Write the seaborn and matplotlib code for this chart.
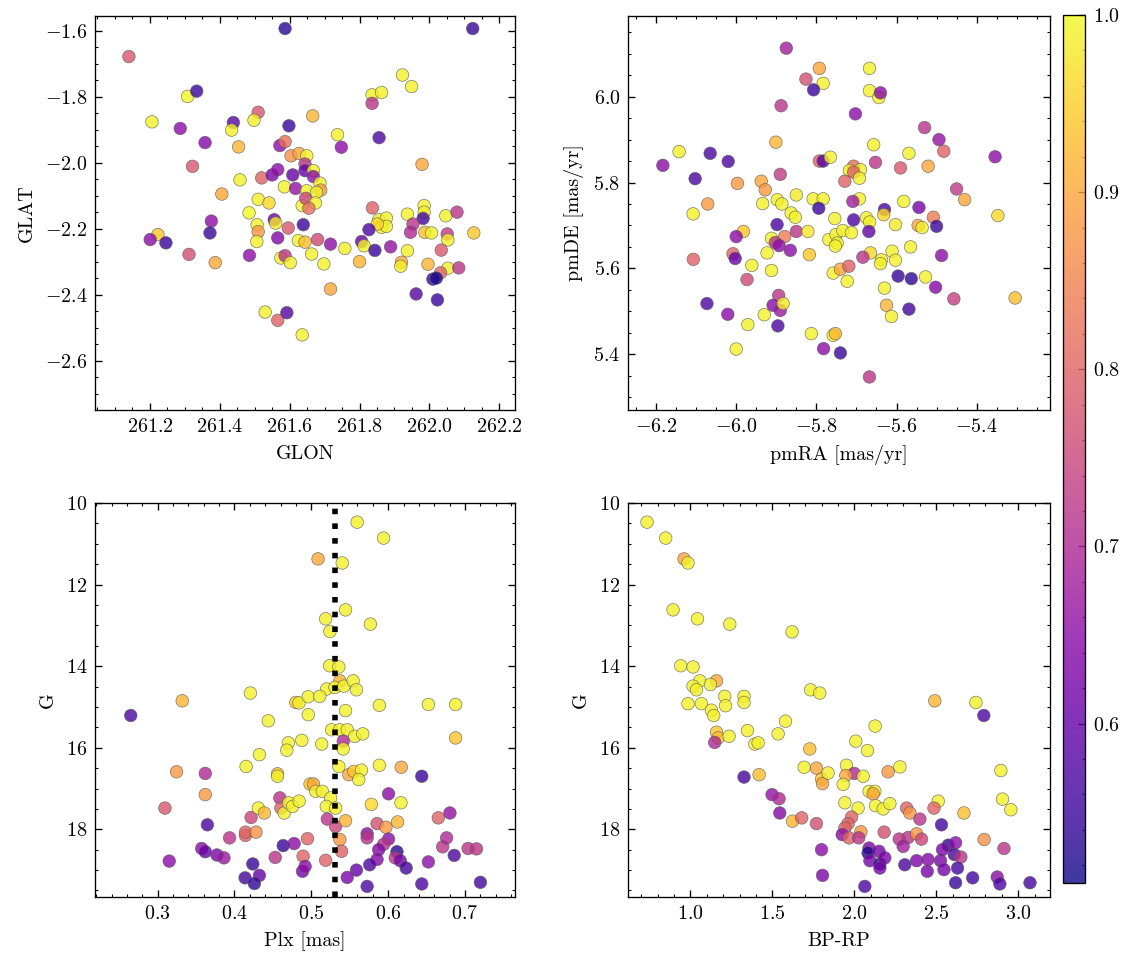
import numpy as np
import pandas as pd
import matplotlib
matplotlib.use('Agg')
import matplotlib.pyplot as plt
import matplotlib.colors as mcolors
import matplotlib.cm as cm
import seaborn as sns

sns.set_theme(style='ticks')
plt.rcParams.update({
    'font.family': ['cmr10', 'DejaVu Serif'],
    'mathtext.fontset': 'cm',
    'axes.formatter.use_mathtext': True,
    'font.size': 9,
    'axes.labelsize': 9,
    'xtick.labelsize': 9,
    'ytick.labelsize': 9,
    'text.color': 'black',
    'axes.labelcolor': 'black',
    'axes.linewidth': 0.6,
    'axes.edgecolor': 'black',
    'xtick.direction': 'in',
    'ytick.direction': 'in',
    'xtick.top': True,
    'ytick.right': True,
    'xtick.minor.visible': True,
    'ytick.minor.visible': True,
    'xtick.major.size': 3,
    'ytick.major.size': 3,
    'xtick.minor.size': 1.5,
    'ytick.minor.size': 1.5,
    'xtick.major.width': 0.6,
    'ytick.major.width': 0.6,
    'xtick.minor.width': 0.5,
    'ytick.minor.width': 0.5,
    'xtick.color': 'black',
    'ytick.color': 'black',
})

# ---- position panel: GLON, GLAT, membership probability
glon = [261.587, 261.14, 261.308, 261.334, 261.206, 261.287, 261.439, 261.434, 261.51, 261.498,
        261.598, 261.358, 261.454, 261.572, 261.587, 261.604, 261.627, 261.322, 261.458, 261.52,
        261.55, 261.566, 261.609, 261.585, 261.617, 261.406, 261.51, 261.541, 261.484, 261.376,
        261.372, 261.507, 261.51, 261.506, 261.556, 261.56, 261.596, 261.639, 261.223, 261.201,
        261.246, 261.566, 261.625, 261.644, 261.312, 261.387, 261.485, 261.575, 261.587, 261.602,
        261.53, 261.566, 261.592, 261.636, 261.636, 261.649,
        262.124, 261.923, 261.949, 261.836, 261.863, 261.836, 261.666, 261.737, 261.748, 261.856,
        261.979, 261.649, 261.644, 261.644, 261.668, 261.668, 261.687, 261.689, 261.677, 261.646,
        261.674, 261.655, 261.663, 261.698, 261.68, 261.717, 261.758, 261.717, 261.837, 261.855,
        261.877, 261.863, 261.877, 261.851, 261.827, 261.806, 261.813, 261.844, 261.889, 261.80,
        261.937, 261.985, 261.985, 261.982, 261.953, 261.946, 261.987, 262.006, 262.047, 262.079,
        262.051, 262.053, 262.127, 262.034, 261.937, 261.92, 261.918, 261.996, 262.053, 262.084,
        262.032, 262.01, 262.02, 261.962, 262.023]
glat = [-1.593, -1.678, -1.799, -1.783, -1.876, -1.896, -1.878, -1.901, -1.847, -1.871,
        -1.888, -1.939, -1.952, -1.948, -1.936, -1.979, -1.972, -2.011, -2.052, -2.046,
        -2.037, -2.021, -2.037, -2.073, -2.078, -2.095, -2.111, -2.122, -2.152, -2.177,
        -2.213, -2.188, -2.209, -2.239, -2.173, -2.183, -2.198, -2.188, -2.218, -2.233,
        -2.243, -2.228, -2.236, -2.241, -2.278, -2.303, -2.281, -2.289, -2.282, -2.303,
        -2.453, -2.478, -2.455, -2.522, -2.13, -2.085,
        -1.593, -1.734, -1.769, -1.794, -1.787, -1.82, -1.858, -1.915, -1.953, -1.924,
        -2.005, -1.979, -2.004, -2.024, -2.024, -2.042, -2.062, -2.083, -2.09, -2.108,
        -2.122, -2.138, -2.277, -2.307, -2.233, -2.247, -2.26, -2.383, -2.137, -2.173,
        -2.168, -2.196, -2.193, -2.186, -2.203, -2.239, -2.252, -2.266, -2.255, -2.30,
        -2.156, -2.13, -2.15, -2.169, -2.186, -2.211, -2.211, -2.213, -2.161, -2.15,
        -2.216, -2.234, -2.213, -2.265, -2.267, -2.302, -2.314, -2.308, -2.32, -2.319,
        -2.334, -2.353, -2.35, -2.398, -2.416]
prob_pos = [0.53, 0.78, 1.0, 0.55, 0.99, 0.65, 0.58, 0.99, 0.78, 0.99,
            0.55, 0.64, 0.92, 0.65, 0.82, 0.87, 0.90, 0.78, 0.99, 0.80,
            0.63, 0.65, 0.60, 0.99, 0.66, 0.90, 0.99, 0.96, 1.0, 0.65,
            0.55, 0.99, 0.88, 0.99, 0.60, 0.98, 0.78, 0.55, 0.94, 0.65,
            0.55, 0.64, 0.99, 0.93, 0.77, 0.90, 0.65, 0.99, 0.72, 0.99,
            0.99, 0.80, 0.58, 0.99, 0.99, 0.99,
            0.55, 0.99, 0.99, 0.99, 0.99, 0.72, 0.92, 0.99, 0.65, 0.57,
            0.90, 0.99, 0.72, 0.60, 0.99, 0.65, 0.99, 0.88, 0.99, 0.75,
            0.99, 0.82, 0.99, 0.99, 0.76, 0.65, 0.99, 0.90, 0.80, 0.99,
            0.99, 0.99, 0.99, 0.96, 0.57, 0.60, 0.99, 0.55, 0.66, 0.92,
            0.99, 0.99, 0.99, 0.56, 0.72, 0.70, 0.93, 0.99, 0.99, 0.72,
            0.73, 0.99, 0.94, 0.78, 0.99, 0.90, 0.99, 0.92, 0.99, 0.72,
            0.80, 0.55, 0.52, 0.58, 0.55]

# ---- proper motion panel
pmra = [-5.875, -5.7925, -5.826, -5.783, -5.807, -5.888, -5.901, -6.183, -6.1425, -6.065,
        -6.02, -6.1025, -5.997, -5.89, -5.7925, -5.783, -5.9375, -5.9275, -6.071, -6.1075,
        -5.934, -5.8975, -5.886, -5.85, -5.808, -5.783, -5.794, -5.863, -5.8525, -5.898,
        -5.982, -6.0, -5.912, -5.879, -5.85, -5.821, -5.9025, -5.893, -5.923, -5.865,
        -5.8175, -6.008, -6.0025, -6.107, -5.961, -5.912, -5.973, -6.073, -6.021, -5.894,
        -5.908, -5.89, -5.883, -5.93, -5.971, -5.896, -5.8125, -6.0, -5.782,
        -5.6675, -5.6675, -5.644, -5.64, -5.7025, -5.53, -5.494, -5.482, -5.657, -5.569,
        -5.6525, -5.59, -5.521, -5.354, -5.765, -5.707, -5.7175, -5.69, -5.707, -5.6925,
        -5.729, -5.45, -5.43, -5.347, -5.6925, -5.709, -5.582, -5.63, -5.632, -5.544,
        -5.754, -5.707, -5.675, -5.667, -5.669, -5.6025, -5.546, -5.536, -5.508, -5.5,
        -5.769, -5.751, -5.734, -5.7125, -5.748, -5.7525, -5.665, -5.684, -5.611, -5.6375,
        -5.64, -5.6025, -5.565, -5.4875, -5.758, -5.74, -5.719, -5.723, -5.596, -5.563,
        -5.5275, -5.5025, -5.63, -5.457, -5.304, -5.625, -5.6125, -5.569, -5.758, -5.7525,
        -5.74, -5.6675]
pmde = [6.113, 6.066, 6.041, 6.031, 6.016, 5.979, 5.894, 5.84, 5.872, 5.868,
        5.849, 5.809, 5.798, 5.819, 5.85, 5.85, 5.803, 5.783, 5.75, 5.727,
        5.751, 5.76, 5.75, 5.771, 5.762, 5.762, 5.74, 5.729, 5.719, 5.702,
        5.686, 5.674, 5.67, 5.674, 5.686, 5.686, 5.66, 5.653, 5.636, 5.642,
        5.632, 5.634, 5.623, 5.621, 5.607, 5.595, 5.574, 5.518, 5.493, 5.537,
        5.514, 5.502, 5.518, 5.492, 5.469, 5.466, 5.448, 5.412, 5.413,
        6.066, 6.014, 5.998, 6.009, 5.96, 5.928, 5.90, 5.873, 5.888, 5.868,
        5.847, 5.834, 5.838, 5.86, 5.859, 5.838, 5.828, 5.83, 5.824, 5.81,
        5.803, 5.785, 5.76, 5.723, 5.762, 5.756, 5.756, 5.737, 5.725, 5.742,
        5.716, 5.713, 5.718, 5.708, 5.686, 5.702, 5.70, 5.695, 5.719, 5.698,
        5.667, 5.679, 5.688, 5.683, 5.659, 5.652, 5.636, 5.626, 5.64, 5.62,
        5.611, 5.619, 5.65, 5.63, 5.589, 5.598, 5.605, 5.57, 5.582, 5.576,
        5.58, 5.556, 5.554, 5.529, 5.531, 5.514, 5.488, 5.505, 5.444, 5.448,
        5.403, 5.347]
prob_pm = [0.68, 0.90, 0.77, 0.99, 0.55, 0.72, 0.92, 0.65, 0.99, 0.57,
           0.57, 0.57, 0.88, 0.73, 0.80, 0.58, 0.90, 0.88, 0.88, 0.99,
           0.99, 0.99, 0.99, 0.98, 0.99, 0.99, 0.55, 0.99, 0.99, 0.57,
           0.94, 0.65, 0.99, 0.84, 0.72, 0.98, 0.72, 0.65, 0.99, 0.65,
           0.94, 0.80, 0.60, 0.80, 0.99, 0.99, 0.76, 0.57, 0.65, 0.72,
           0.65, 0.67, 0.98, 0.99, 0.99, 0.57, 0.99, 0.99, 0.65,
           0.99, 0.99, 0.99, 0.65, 0.65, 0.72, 0.66, 0.80, 0.99, 0.99,
           0.72, 0.78, 0.90, 0.65, 0.99, 0.82, 0.99, 0.99, 0.80, 0.99,
           0.80, 0.73, 0.90, 0.96, 0.99, 0.68, 0.99, 0.57, 0.96, 0.62,
           0.99, 0.57, 0.99, 0.99, 0.60, 0.98, 0.90, 0.99, 0.84, 0.55,
           0.99, 0.99, 0.99, 0.99, 0.99, 0.99, 0.96, 0.72, 0.99, 0.99,
           0.99, 0.99, 0.99, 0.65, 0.99, 0.90, 0.80, 0.99, 0.55, 0.54,
           0.99, 0.64, 0.99, 0.74, 0.93, 0.92, 0.99, 0.56, 0.99, 0.92,
           0.55, 0.72]

# ---- parallax vs G panel
plx = [0.265, 0.332, 0.4207, 0.444, 0.4798, 0.484, 0.496, 0.496, 0.470, 0.468,
       0.4876, 0.4324, 0.4151, 0.456, 0.456, 0.3246, 0.362, 0.362, 0.3095, 0.3647,
       0.3151, 0.3573, 0.362, 0.3772, 0.3863, 0.3936, 0.4143, 0.4143, 0.428, 0.4216,
       0.431, 0.4389, 0.459, 0.4604, 0.4647, 0.4704, 0.4755, 0.4841, 0.4983, 0.4634,
       0.4776, 0.453, 0.4238, 0.4324, 0.4138, 0.4259, 0.4893, 0.4885, 0.4919, 0.495,
       0.5596, 0.594, 0.5087, 0.5402, 0.5445, 0.5768, 0.5186, 0.5242, 0.5238, 0.5358,
       0.5371, 0.5199, 0.5307, 0.5423, 0.5544, 0.5587, 0.5109, 0.5885, 0.6523, 0.6877,
       0.6877, 0.5445, 0.5264, 0.5367, 0.5467, 0.5565, 0.5669, 0.5415, 0.5415, 0.5135,
       0.5358, 0.5488, 0.5552, 0.5652, 0.5617, 0.5885, 0.617, 0.6437, 0.5027, 0.5057,
       0.5143, 0.5251, 0.5195, 0.5316, 0.5781, 0.6005, 0.6166, 0.5208, 0.5316, 0.5445,
       0.5855, 0.5971, 0.6122, 0.6652, 0.6803, 0.5371, 0.5393, 0.5186, 0.5726, 0.5726,
       0.6005, 0.594, 0.5876, 0.6114, 0.6092, 0.6157, 0.6234, 0.5855, 0.5759, 0.5587,
       0.5467, 0.5726, 0.6523, 0.6709, 0.676, 0.6859, 0.704, 0.7149, 0.6437, 0.72]
g_plx = [15.21, 14.85, 14.66, 15.34, 14.89, 14.90, 14.75, 15.19, 15.88, 16.06,
         15.82, 16.17, 16.46, 16.64, 16.70, 16.59, 16.63, 17.15, 17.48, 17.89,
         18.78, 18.47, 18.55, 18.63, 18.70, 18.21, 18.15, 18.07, 18.07, 17.71,
         17.48, 17.60, 17.23, 17.48, 17.60, 17.35, 17.44, 17.31, 16.89, 18.40,
         18.35, 18.69, 18.85, 19.13, 19.19, 19.33, 18.66, 19.03, 18.91, 18.23,
         10.47, 10.86, 11.37, 11.47, 12.62, 12.97, 12.84, 13.15, 13.99, 14.02,
         14.36, 14.56, 14.52, 14.49, 14.36, 14.58, 14.74, 14.96, 14.94, 14.94,
         15.76, 15.09, 15.56, 15.56, 15.56, 15.72, 15.66, 15.84, 16.03, 15.91,
         16.46, 16.66, 16.58, 16.55, 16.78, 16.43, 16.48, 16.70, 16.89, 17.07,
         17.07, 17.23, 17.44, 17.48, 17.39, 17.13, 17.35, 17.75, 17.93, 17.79,
         17.86, 17.95, 17.82, 17.72, 17.60, 18.25, 18.54, 18.76, 18.11, 18.21,
         18.24, 18.37, 18.50, 18.55, 18.70, 18.77, 18.95, 18.74, 18.87, 19.00,
         19.18, 19.40, 18.80, 18.43, 18.21, 18.64, 18.47, 18.48, 19.34, 19.30]
prob_plx = [0.57, 0.92, 0.99, 0.99, 0.94, 0.99, 0.99, 0.99, 0.99, 0.99,
            0.99, 0.99, 0.99, 0.93, 0.99, 0.88, 0.70, 0.88, 0.78, 0.57,
            0.65, 0.65, 0.60, 0.63, 0.67, 0.72, 0.80, 0.80, 0.87, 0.75,
            0.99, 0.92, 0.72, 0.80, 0.99, 0.99, 0.99, 0.99, 0.94, 0.55,
            0.65, 0.72, 0.55, 0.60, 0.56, 0.54, 0.80, 0.62, 0.65, 0.80,
            0.99, 0.99, 0.90, 0.99, 0.99, 0.99, 0.99, 0.99, 0.99, 0.99,
            0.92, 0.99, 0.99, 0.99, 0.99, 0.99, 0.99, 0.99, 0.99, 0.99,
            0.94, 0.99, 0.99, 0.99, 0.99, 0.99, 0.99, 0.70, 0.99, 0.99,
            0.99, 0.90, 0.94, 0.99, 0.99, 0.99, 0.90, 0.55, 0.90, 0.99,
            0.99, 0.99, 0.99, 0.99, 0.96, 0.65, 0.99, 0.72, 0.75, 0.92,
            0.77, 0.88, 0.92, 0.80, 0.66, 0.88, 0.80, 0.80, 0.65, 0.72,
            0.65, 0.72, 0.64, 0.53, 0.72, 0.62, 0.56, 0.64, 0.57, 0.60,
            0.63, 0.57, 0.65, 0.72, 0.70, 0.57, 0.72, 0.72, 0.57, 0.56]
plx_mean = 0.531

# ---- colour-magnitude panel
bprp = [0.735, 0.849, 0.961, 0.985, 0.894, 1.043, 1.240, 1.620, 0.941, 1.016,
        1.159, 1.057, 1.016, 1.037, 1.122, 0.985, 1.067, 1.209, 1.214, 1.327,
        1.327, 1.128, 1.142, 1.733, 1.789, 1.580, 1.535, 1.159, 1.169, 1.236,
        1.148, 1.348, 1.393, 1.413, 1.728, 1.694, 1.769, 1.419, 1.327, 1.498,
        1.541, 1.545, 1.623, 1.679, 1.769, 1.800, 1.806, 1.800, 1.806,
        2.491, 2.742, 2.790, 2.127, 2.009, 2.080, 1.952, 1.999, 1.948, 2.054,
        1.840, 2.206, 2.278, 1.932, 2.090, 2.125, 2.115, 2.129, 2.176, 2.217,
        1.942, 2.023, 2.512, 2.486, 2.319, 2.339, 2.669, 2.894, 2.904, 2.955,
        2.400, 2.532, 1.983, 1.962, 1.942, 2.040, 1.926, 1.968, 2.027, 2.182,
        2.274, 2.329, 2.380, 2.410, 2.298, 2.090, 2.084, 2.151, 2.095, 2.156,
        2.186, 2.156, 2.308, 2.380, 2.450, 2.445, 2.526, 2.547, 2.573, 2.538,
        2.618, 2.610, 2.650, 2.630, 2.618, 2.722, 2.792, 2.913, 2.872, 2.888,
        3.072, 2.064]
g_cmd = [10.47, 10.86, 11.37, 11.47, 12.62, 12.84, 12.97, 13.16, 13.99, 14.02,
         14.36, 14.36, 14.49, 14.58, 14.45, 14.92, 14.92, 14.74, 14.97, 14.74,
         14.89, 15.08, 15.21, 14.58, 14.66, 15.35, 15.66, 15.62, 15.76, 15.72,
         15.87, 15.58, 15.91, 15.88, 16.03, 16.48, 16.50, 16.66, 16.72, 17.15,
         17.25, 17.60, 17.80, 17.72, 17.86, 16.77, 16.88, 18.50, 19.13,
         14.85, 14.89, 15.21, 15.47, 15.84, 16.07, 16.43, 16.63, 16.68, 16.70,
         16.62, 16.59, 16.47, 16.90, 17.07, 17.07, 17.13, 17.42, 17.50, 17.37,
         17.35, 17.48, 17.31, 17.48, 17.48, 17.60, 17.60, 16.56, 17.26, 17.52,
         17.75, 17.89, 17.70, 17.86, 17.97, 18.06, 18.13, 18.21, 18.21, 18.07,
         18.24, 18.20, 18.11, 18.24, 18.42, 18.46, 18.58, 18.54, 18.77, 18.85,
         18.70, 18.95, 18.87, 18.77, 18.74, 19.03, 18.77, 18.99, 18.39, 18.50,
         18.33, 18.62, 18.68, 18.95, 19.31, 19.19, 18.25, 18.47, 19.17, 19.34,
         19.31, 19.40]
prob_cmd = [0.99, 0.99, 0.90, 0.99, 0.99, 0.99, 0.99, 0.99, 0.99, 0.99,
            0.90, 0.99, 0.99, 0.99, 0.99, 0.99, 0.99, 0.99, 0.99, 0.99,
            0.99, 0.99, 0.99, 0.99, 0.99, 0.99, 0.99, 0.94, 0.93, 0.99,
            0.70, 0.99, 0.99, 0.99, 0.93, 0.99, 0.90, 0.93, 0.56, 0.66,
            0.70, 0.64, 0.92, 0.80, 0.77, 0.93, 0.90, 0.65, 0.63,
            0.92, 0.99, 0.57, 0.99, 0.99, 0.99, 0.99, 0.70, 0.90, 0.99,
            0.99, 0.88, 0.99, 0.99, 0.99, 0.99, 0.90, 0.99, 0.99, 0.99,
            0.99, 0.99, 0.99, 0.80, 0.80, 0.88, 0.93, 0.99, 0.99, 0.99,
            0.72, 0.56, 0.80, 0.80, 0.80, 0.88, 0.65, 0.80, 0.72, 0.77,
            0.72, 0.72, 0.88, 0.75, 0.68, 0.63, 0.52, 0.62, 0.62, 0.54,
            0.63, 0.62, 0.57, 0.63, 0.64, 0.62, 0.63, 0.62, 0.54, 0.63,
            0.65, 0.57, 0.72, 0.56, 0.55, 0.56, 0.87, 0.72, 0.65, 0.57,
            0.56, 0.57]

p_min, p_max = 0.51, 1.0
cmap = 'plasma'
norm = mcolors.Normalize(vmin=p_min, vmax=p_max)

W, H = 1133, 965
fig = plt.figure(figsize=(W / 160, H / 160), dpi=160)


def rect(x0, y0, x1, y1):
    return [x0 / W, 1 - y1 / H, (x1 - x0) / W, (y1 - y0) / H]


ax1 = fig.add_axes(rect(95, 16, 515, 410))
ax2 = fig.add_axes(rect(628, 16, 1050, 410))
ax3 = fig.add_axes(rect(95, 503, 515, 897))
ax4 = fig.add_axes(rect(628, 503, 1050, 897))
cax = fig.add_axes(rect(1063, 15, 1085, 883))

kw = dict(hue_norm=norm, palette=cmap, s=32, alpha=0.8,
          edgecolor='0.35', linewidth=0.3, legend=False)

sns.scatterplot(data=pd.DataFrame({'GLON': glon, 'GLAT': glat, 'p': prob_pos}),
                x='GLON', y='GLAT', hue='p', ax=ax1, **kw)
ax1.set_xlim(261.043, 262.245)
ax1.set_ylim(-2.75, -1.555)

sns.scatterplot(data=pd.DataFrame({'pmRA': pmra, 'pmDE': pmde, 'p': prob_pm}),
                x='pmRA', y='pmDE', hue='p', ax=ax2, **kw)
ax2.set_xlim(-6.27, -5.217)
ax2.set_ylim(5.27, 6.188)
ax2.set_xlabel('pmRA [mas/yr]')
ax2.set_ylabel('pmDE [mas/yr]')

sns.scatterplot(data=pd.DataFrame({'Plx': plx, 'G': g_plx, 'p': prob_plx}),
                x='Plx', y='G', hue='p', ax=ax3, **kw)
ax3.axvline(plx_mean, color='black', ls=':', lw=2.5, zorder=5)
ax3.set_xlim(0.2185, 0.765)
ax3.set_ylim(19.66, 10.0)
ax3.set_xlabel('Plx [mas]')

sns.scatterplot(data=pd.DataFrame({'BP-RP': bprp, 'G': g_cmd, 'p': prob_cmd}),
                x='BP-RP', y='G', hue='p', ax=ax4, **kw)
ax4.set_xlim(0.619, 3.194)
ax4.set_ylim(19.66, 10.0)

for ax in (ax1, ax2, ax3, ax4):
    ax.tick_params(which='both', top=True, right=True, direction='in')
    ax.minorticks_on()

sm = cm.ScalarMappable(norm=norm, cmap=cmap)
cb = fig.colorbar(sm, cax=cax, alpha=0.8)
cb.set_ticks([0.6, 0.7, 0.8, 0.9, 1.0])
cb.ax.minorticks_on()
cb.ax.tick_params(which='both', direction='in', right=True, left=False)
cb.outline.set_linewidth(0.6)

fig.savefig('out.png', dpi=160)
